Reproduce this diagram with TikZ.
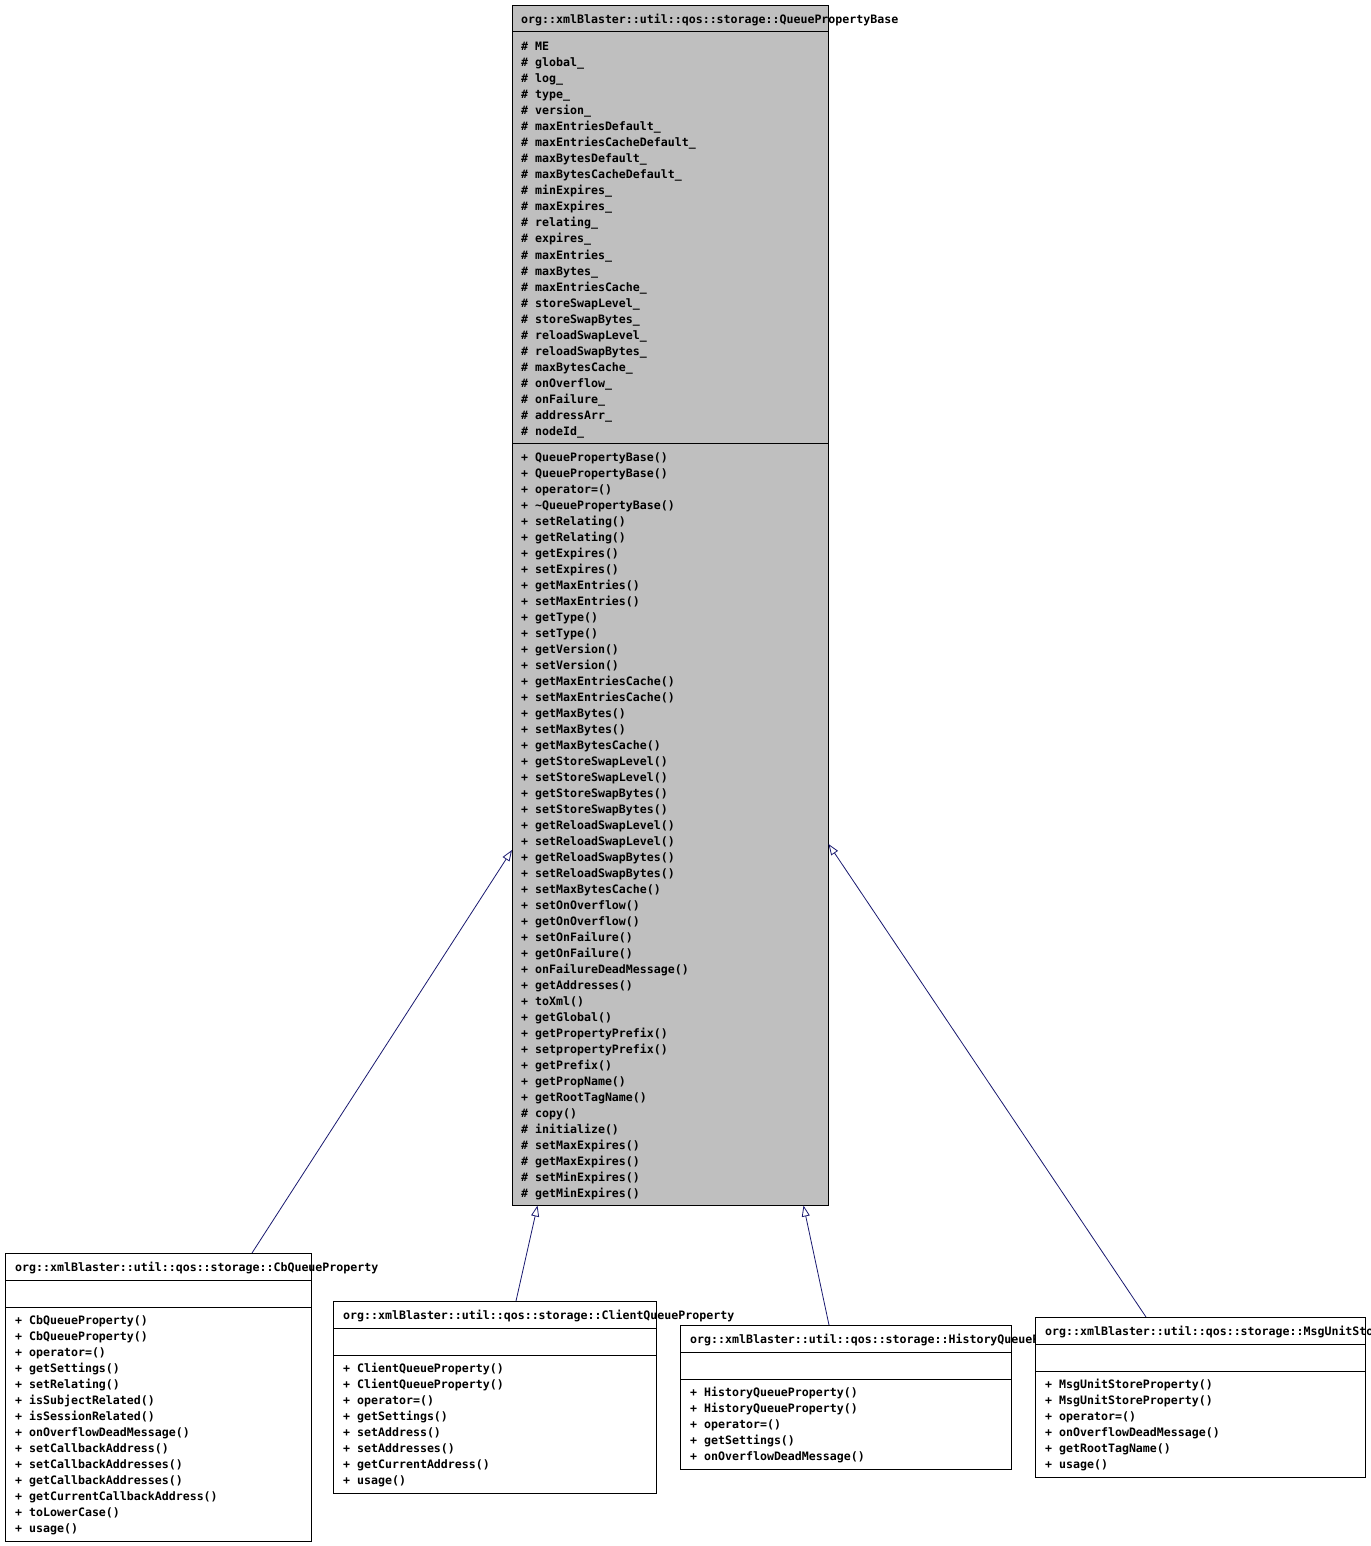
\documentclass[tikz,border=0pt]{standalone}
\usepackage{fontspec}
\newfontfamily\doxfont{DejaVu Sans Mono}
\usetikzlibrary{arrows.meta}
\definecolor{edgeblue}{HTML}{191970}
\definecolor{basegray}{HTML}{BFBFBF}
\tikzset{
  cls/.style={draw=black, line width=1pt, rectangle, inner sep=0pt, fill=white},
  txt/.style={anchor=base west, inner sep=0pt, font=\doxfont\bfseries\fontsize{11.6}{16}\selectfont},
  rule/.style={draw=black, line width=1pt},
  inherit/.style={draw=edgeblue, line width=0.8pt, -{Triangle[open, length=11pt, width=8pt]}},
}
\begin{document}
\begin{tikzpicture}[x=1pt, y=-1pt]
\useasboundingbox[fill=white] (0,0) rectangle (1370,1546);

% ---------- base class ----------
\node[cls, fill=basegray, minimum width=316pt, minimum height=1199pt] (base) at (670,605.5) {};
\draw[rule] (512,32) -- (828,32);
\draw[rule] (512,443) -- (828,443);
\node[txt] (basetitle) at (521,24) {org::xmlBlaster::util::qos::storage::QueuePropertyBase};
\foreach \t [count=\i from 0] in {
 \# ME, \# global\_, \# log\_, \# type\_, \# version\_, \# maxEntriesDefault\_,
 \# maxEntriesCacheDefault\_, \# maxBytesDefault\_, \# maxBytesCacheDefault\_,
 \# minExpires\_, \# maxExpires\_, \# relating\_, \# expires\_, \# maxEntries\_,
 \# maxBytes\_, \# maxEntriesCache\_, \# storeSwapLevel\_, \# storeSwapBytes\_,
 \# reloadSwapLevel\_, \# reloadSwapBytes\_, \# maxBytesCache\_, \# onOverflow\_,
 \# onFailure\_, \# addressArr\_, \# nodeId\_}
  \node[txt] (ba\i) at (521,51+16*\i) {\t};
\foreach \t [count=\i from 0] in {
 + QueuePropertyBase(), + QueuePropertyBase(), + operator=(),
 + \textasciitilde QueuePropertyBase(), + setRelating(), + getRelating(),
 + getExpires(), + setExpires(), + getMaxEntries(), + setMaxEntries(),
 + getType(), + setType(), + getVersion(), + setVersion(),
 + getMaxEntriesCache(), + setMaxEntriesCache(), + getMaxBytes(), + setMaxBytes(),
 + getMaxBytesCache(), + getStoreSwapLevel(), + setStoreSwapLevel(),
 + getStoreSwapBytes(), + setStoreSwapBytes(), + getReloadSwapLevel(),
 + setReloadSwapLevel(), + getReloadSwapBytes(), + setReloadSwapBytes(),
 + setMaxBytesCache(), + setOnOverflow(), + getOnOverflow(), + setOnFailure(),
 + getOnFailure(), + onFailureDeadMessage(), + getAddresses(), + toXml(),
 + getGlobal(), + getPropertyPrefix(), + setpropertyPrefix(), + getPrefix(),
 + getPropName(), + getRootTagName(), \# copy(), \# initialize(),
 \# setMaxExpires(), \# getMaxExpires(), \# setMinExpires(), \# getMinExpires()}
  \node[txt] (bm\i) at (521,461+16*\i) {\t};

% ---------- connector end points ----------
\coordinate (baseL) at (512,850);
\coordinate (baseR) at (828.5,844);
\coordinate (baseB1) at (537.5,1205.5);
\coordinate (baseB2) at (803.5,1205.5);
\coordinate (cbtop) at (252,1253);
\coordinate (cltop) at (516,1301);
\coordinate (hitop) at (829,1325);
\coordinate (mstop) at (1146,1317);

\draw[inherit] (cbtop) -- (baseL);
\draw[inherit] (cltop) -- (baseB1);
\draw[inherit] (hitop) -- (baseB2);
\draw[inherit] (mstop) -- (baseR);

% ---------- CbQueueProperty ----------
\node[cls, minimum width=306pt, minimum height=288pt] (cb) at (158,1397) {};
\draw[rule] (5,1280) -- (311,1280);
\draw[rule] (5,1307) -- (311,1307);
\node[txt] (cbtitle) at (15,1271) {org::xmlBlaster::util::qos::storage::CbQueueProperty};
\foreach \t [count=\i from 0] in {
 + CbQueueProperty(), + CbQueueProperty(), + operator=(), + getSettings(),
 + setRelating(), + isSubjectRelated(), + isSessionRelated(),
 + onOverflowDeadMessage(), + setCallbackAddress(), + setCallbackAddresses(),
 + getCallbackAddresses(), + getCurrentCallbackAddress(), + toLowerCase(), + usage()}
  \node[txt] (cbm\i) at (15,1324+16*\i) {\t};

% ---------- ClientQueueProperty ----------
\node[cls, minimum width=323pt, minimum height=192pt] (cl) at (494.5,1397) {};
\draw[rule] (333,1328) -- (656,1328);
\draw[rule] (333,1355) -- (656,1355);
\node[txt] (cltitle) at (343,1319) {org::xmlBlaster::util::qos::storage::ClientQueueProperty};
\foreach \t [count=\i from 0] in {
 + ClientQueueProperty(), + ClientQueueProperty(), + operator=(), + getSettings(),
 + setAddress(), + setAddresses(), + getCurrentAddress(), + usage()}
  \node[txt] (clm\i) at (343,1372+16*\i) {\t};

% ---------- HistoryQueueProperty ----------
\node[cls, minimum width=331pt, minimum height=144pt] (hi) at (845.5,1397) {};
\draw[rule] (680,1352) -- (1011,1352);
\draw[rule] (680,1379) -- (1011,1379);
\node[txt] (hititle) at (690,1343) {org::xmlBlaster::util::qos::storage::HistoryQueueProperty};
\foreach \t [count=\i from 0] in {
 + HistoryQueueProperty(), + HistoryQueueProperty(), + operator=(), + getSettings(),
 + onOverflowDeadMessage()}
  \node[txt] (him\i) at (690,1396+16*\i) {\t};

% ---------- MsgUnitStoreProperty ----------
\node[cls, minimum width=330pt, minimum height=160pt] (ms) at (1200,1397) {};
\draw[rule] (1035,1344) -- (1365,1344);
\draw[rule] (1035,1371) -- (1365,1371);
\node[txt] (mstitle) at (1045,1335) {org::xmlBlaster::util::qos::storage::MsgUnitStoreProperty};
\foreach \t [count=\i from 0] in {
 + MsgUnitStoreProperty(), + MsgUnitStoreProperty(), + operator=(),
 + onOverflowDeadMessage(), + getRootTagName(), + usage()}
  \node[txt] (msm\i) at (1045,1388+16*\i) {\t};
\end{tikzpicture}
\end{document}
